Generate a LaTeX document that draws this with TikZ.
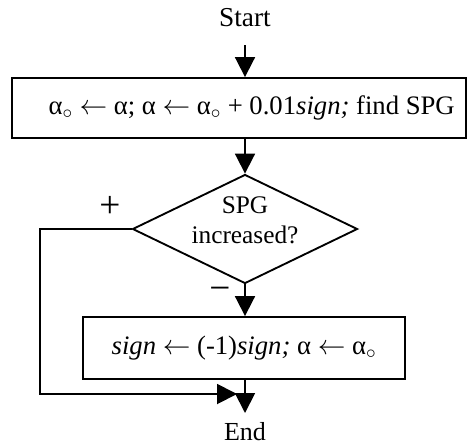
\documentclass[tikz,border=0pt]{standalone}
\usepackage{fontspec}
\setmainfont{Liberation Serif}
\usetikzlibrary{arrows.meta,shapes.geometric}
\newcommand{\lar}{\ensuremath{\leftarrow}}
\newcommand{\alo}{α\ensuremath{_\circ}}
\begin{document}
\begin{tikzpicture}[x=0.75pt,y=-0.75pt,
  line width=1.4pt,
  every node/.style={font=\fontsize{19}{22}\selectfont},
  proc/.style={draw,rectangle,inner sep=0pt,font=\fontsize{20}{22}\selectfont},
  dec/.style={draw,diamond,inner sep=0pt,aspect=2,minimum width=168.75pt,minimum height=81.75pt,align=center},
  lbl/.style={inner sep=0pt},
  big/.style={font=\fontsize{20.5}{22}\selectfont},
  sgn/.style={inner sep=0pt,font=\fontsize{28}{28}\selectfont},
  arr/.style={-{Triangle[length=15pt,width=15pt]}}]
\useasboundingbox (0,0) rectangle (470,447);
\node[lbl,big] (start) at (245,18) {Start};
\node[proc,minimum width=340.5pt,minimum height=45pt] (b1) at (239,108)
  {\hspace*{19pt}\alo{} \lar{} α; α \lar{} \alo{} + 0.01\textit{sign;} find SPG};
\node[dec] (d) at (245,229) {\raisebox{0.5pt}[0pt][0pt]{\begin{tabular}{@{}c@{}}SPG\\increased?\end{tabular}}};
\node[proc,minimum width=241.5pt,minimum height=46.5pt] (b2) at (244,348)
  {\textit{sign} \lar{} (-1)\textit{sign;} α \lar{} \alo};
\node[sgn] (plus) at (110,207) {+};
\node[sgn] (minus) at (220,294) {−};
\node[lbl,font=\fontsize{19.5}{22}\selectfont] (end) at (245,432) {End};
\coordinate (s1) at (245,45);
\coordinate (lc) at (40,394);
\coordinate (ht) at (237,394);
\coordinate (et) at (245,413);
\draw[arr] (s1) -- (s1 |- b1.north);
\draw[arr] (s1 |- b1.south) -- (d.north);
\draw[arr] (d.south) -- (d.south |- b2.north);
\draw[arr] (d.south |- b2.south) -- (et);
\draw[arr] (d.west) -| (lc) -- (ht);
\end{tikzpicture}
\end{document}
